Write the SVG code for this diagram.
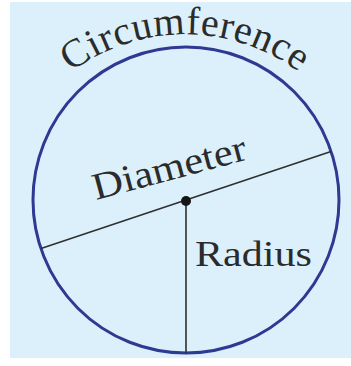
<svg xmlns="http://www.w3.org/2000/svg" width="351" height="366" viewBox="0 0 351 366">
  <style>
    .lbl { font-family: "Liberation Serif", "Times New Roman", serif; fill: #2b2b2b; }
    .ln { stroke: #2f2f2f; stroke-width: 1.6; fill: none; }
  </style>
  <defs>
    <path id="arcPath" d="M66,76 A191,191 0 0 1 304,76"/>
  </defs>
  <rect x="0" y="0" width="351" height="366" fill="#ffffff"/>
  <rect x="10" y="2" width="341" height="356" fill="#dcf0fb"/>
  <g id="circle">
    <circle cx="186" cy="200" r="153" fill="none" stroke="#2e3a92" stroke-width="3"/>
    <text class="lbl" font-size="40" letter-spacing="0.5" text-anchor="middle"><textPath href="#arcPath" startOffset="50%">Circumference</textPath></text>
  </g>
  <g id="connectors">
    <line class="ln" x1="41" y1="248.4" x2="331" y2="151.6"/>
    <line class="ln" x1="186" y1="200" x2="186" y2="353"/>
  </g>
  <g id="center">
    <circle cx="186" cy="201" r="5" fill="#151515"/>
  </g>
  <g id="diameter-label">
    <text class="lbl" font-size="38" transform="translate(96,200) rotate(-15)" textLength="158" lengthAdjust="spacingAndGlyphs">Diameter</text>
  </g>
  <g id="radius-label">
    <text class="lbl" x="195" y="266" font-size="35" textLength="117" lengthAdjust="spacingAndGlyphs">Radius</text>
  </g>
</svg>
